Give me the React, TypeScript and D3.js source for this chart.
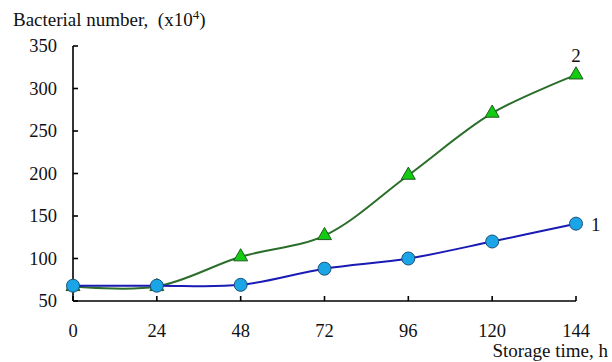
import React from "react";
import * as d3 from "d3";

const hours = [0, 24, 48, 72, 96, 120, 144];
const series1 = [68, 68, 69, 88, 100, 120, 141];
const series2 = [67, 67, 102, 127, 198, 271, 316];
const yTicks = [50, 100, 150, 200, 250, 300, 350];
const seriesLabels = ["1", "2"];

const W = 612;
const H = 362;
const FONT = "'Liberation Serif', 'Times New Roman', serif";

export default function App() {
  const x = d3.scaleLinear().domain([0, 144]).range([73, 576]);
  const y = d3.scaleLinear().domain([50, 350]).range([301, 46]);
  const line = d3
    .line<number>()
    .x((_, i) => x(hours[i]))
    .y((d) => y(d))
    .curve(d3.curveCatmullRom.alpha(0.5));

  const tri = d3.symbol().type(d3.symbolTriangle).size(85)();

  return (
    <svg
      width={W}
      height={H}
      style={{ position: "absolute", left: 0, top: 0, background: "#fff" }}
      fontFamily={FONT}
    >
      <rect width={W} height={H} fill="#fff" />
      {/* title */}
      <text x={13} y={26} fontSize={19} fill="#111">
        Bacterial number,{"\u00a0\u00a0"}(x10
        <tspan dy={-7} fontSize={13}>4</tspan>
        <tspan dy={7}>)</tspan>
      </text>
      {/* axes */}
      <line x1={x(0)} x2={x(0)} y1={y(350)} y2={y(50)} stroke="#000" strokeWidth={1.6} />
      <line x1={x(0)} x2={x(144)} y1={y(50)} y2={y(50)} stroke="#000" strokeWidth={1.6} />
      {yTicks.map((t) => (
        <g key={"y" + t}>
          <line x1={x(0)} x2={x(0) + 5} y1={y(t)} y2={y(t)} stroke="#000" strokeWidth={1.6} />
          <text x={57} y={y(t) + 6} fontSize={18.5} textAnchor="end" fill="#111">
            {t}
          </text>
        </g>
      ))}
      {hours.map((h) => (
        <g key={"x" + h}>
          <line x1={x(h)} x2={x(h)} y1={y(50)} y2={y(50) - 5} stroke="#000" strokeWidth={1.6} />
          <text x={x(h)} y={337} fontSize={18.5} textAnchor="middle" fill="#111">
            {h}
          </text>
        </g>
      ))}
      <text x={608} y={357} fontSize={19} textAnchor="end" fill="#111">
        Storage time, h
      </text>
      {/* series 2 */}
      <path d={line(series2) || ""} fill="none" stroke="#2a6e2a" strokeWidth={2} />
      {series2.map((v, i) => (
        <path
          key={"t" + i}
          d={tri || ""}
          transform={`translate(${x(hours[i])},${y(v)})`}
          fill="#11cc11"
          stroke="#1f5a1f"
          strokeWidth={1}
        />
      ))}
      {/* series 1 */}
      <path d={line(series1) || ""} fill="none" stroke="#1a1ab4" strokeWidth={2} />
      {series1.map((v, i) => (
        <circle
          key={"c" + i}
          cx={x(hours[i])}
          cy={y(v)}
          r={6.5}
          fill="#1aa6e6"
          stroke="#1d4f7a"
          strokeWidth={1}
        />
      ))}
      <text x={591} y={y(series1[6]) + 7} fontSize={19} fill="#111">
        {seriesLabels[0]}
      </text>
      <text x={x(144)} y={62} fontSize={19} textAnchor="middle" fill="#111">
        {seriesLabels[1]}
      </text>
    </svg>
  );
}
